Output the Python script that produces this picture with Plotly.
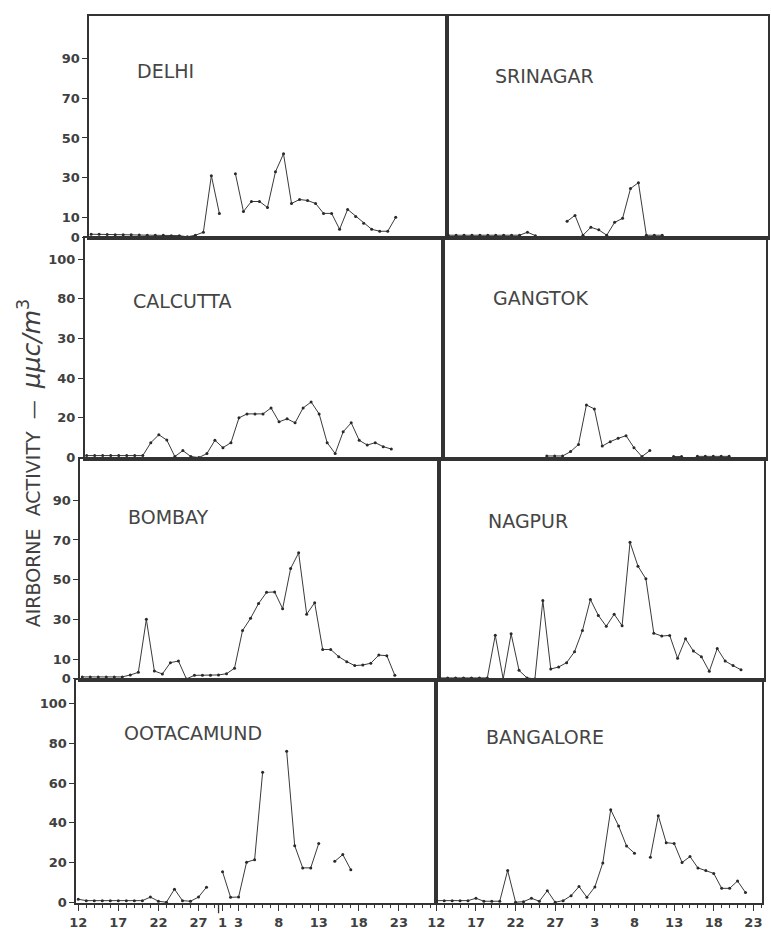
import plotly.graph_objects as go

# ---------------- data (day index 0 = 12th of first month) ----------------
delhi = [1.5, 1.5, 1.4, 1.3, 1.2, 1.2, 1.1, 1.0, 1.0, 1.0, 0.8, 0.8, 0.2, 1.0, 2.5,
         31, 12, None, 32, 13, 18, 18, 15, 33, 42, 17, 19, 18.5, 17, 12, 12, 4, 14,
         10.5, 7, 4, 3, 3, 10]
srinagar = [1, 1, 1, 1, 1, 1, 1, 1, 1, 1, 2.5, 0.8, None, None, None,
            8, 11, 1, 5, 3.7, 1, 7.5, 9.5, 24.5, 27.5, 1, 1, 1]
calcutta = [1, 1, 1, 1, 1, 1, 1, 1, 7.5, 11.5, 8.8, 0.5, 3.5, 0.5, 0, 2, 8.7, 5, 7.5,
            20, 22, 22, 22, 25, 18, 19.5, 17.5, 25, 28, 22, 7.5, 2, 13, 17.5, 8.7,
            6.3, 7.5, 5.5, 4.3]
gangtok = [None] * 13 + [0.8, 0.8, 0.8, 3, 6.6, 26.5, 24.5, 5.8, 8, 9.7, 11, 5, 0.5,
                         3.5, None, None, 0.5, 0.5, None, 0.6, 0.6, 0.6, 0.6, 0.6]
bombay = [1, 1, 1, 1, 1, 1, 2, 3.3, 30, 4, 2.5, 8.2, 9, 0, 1.8, 1.8, 1.8, 2, 2.6, 5.4,
          24.4, 30.5, 38, 43.6, 43.8, 35.4, 55.6, 63.5, 32.6, 38.4, 14.8, 14.8, 11.2,
          8.7, 6.7, 7, 7.9, 12, 11.7, 1.8]
nagpur = [0.5, 0.5, 0.5, 0.5, 0.5, 0.5, 0.5, 22, 0, 22.7, 4.3, 0.5, 0, 39.5, 5, 6, 8.2,
          13.7, 24.4, 40, 32, 26.5, 32.6, 26.8, 68.8, 56.8, 50.4, 23, 21.6, 21.9, 10.4,
          20.2, 14, 11.2, 3.8, 15.3, 9, 6.7, 4.6]
ootacamund = [1.5, 0.8, 0.8, 0.8, 0.8, 0.8, 0.8, 0.8, 0.8, 2.6, 0.5, 0, 6.6, 0.8, 0.5,
              2.6, 7.6, None, 15.3, 2.5, 2.6, 20.2, 21.4, 65.5, None, None, 76, 28.5,
              17.3, 17.3, 29.6, None, 20.6, 24, 16.4]
bangalore = [0.8, 0.8, 0.8, 0.8, 0.8, 2, 0.5, 0.5, 0.5, 16, 0, 0.3, 2, 0.5, 5.8, 0,
             0.8, 3.3, 7.9, 2.5, 7.7, 19.8, 46.6, 38.4, 28.3, 24.7, None, 22.7, 43.6,
             30, 29.6, 20, 23, 17.3, 16, 14.5, 7, 7, 10.7, 4.9]

cities = ["DELHI", "SRINAGAR", "CALCUTTA", "GANGTOK",
          "BOMBAY", "NAGPUR", "OOTACAMUND", "BANGALORE"]
series = [delhi, srinagar, calcutta, gangtok, bombay, nagpur, ootacamund, bangalore]

ytick_vals = [[0, 10, 30, 50, 70, 90], [0, 20, 40, 60, 80, 100],
              [0, 10, 30, 50, 70, 90], [0, 20, 40, 60, 80, 100]]
ytick_text = [["0", "10", "30", "50", "70", "90"], ["0", "20", "40", "30", "80", "100"],
              ["0", "10", "30", "50", "70", "90"], ["0", "20", "40", "60", "80", "100"]]

left_xticks = [0, 5, 10, 15, 18, 20, 25, 30, 35, 40]
left_xlabels = ["12", "17", "22", "27", "1", "3", "8", "13", "18", "23"]
right_xticks = [0, 5, 10, 15, 20, 25, 30, 35, 40]
right_xlabels = ["12", "17", "22", "27", "3", "8", "13", "18", "23"]

# ---------------- layout geometry (pixels) ----------------
W, H = 771, 940
row_top = [16, 240, 462, 685]
row_bot = [240, 462, 685, 910]
axis_left = [82, 77.5, 73, 69]
divider = [444, 439.5, 435.5, 432]
right_edge = [768, 765.5, 764, 762]
PX_DAY_L = 8.1
PX_DAY_R = 8.03

title_pos = [(128, 72), (490, 77), (124, 303), (488, 300),
             (119, 521), (483, 525), (115, 739), (481, 743)]


def px(x):
    return x / W


def py(y):
    return 1 - y / H


ink = "#333333"
tickfont = dict(family="DejaVu Sans", size=13, color="#404040", weight="bold")

fig = go.Figure()
layout = dict(width=W, height=H, paper_bgcolor="white", plot_bgcolor="white",
              margin=dict(l=0, r=0, t=0, b=0), showlegend=False)
annotations = []

for k in range(8):
    r, c = divmod(k, 2)
    n = k + 1
    xs = "" if n == 1 else str(n)
    if c == 0:
        x_lo, x_hi = axis_left[r], divider[r]
        x0 = axis_left[r] + 2
        xr = [(x_lo - x0) / PX_DAY_L, (x_hi - x0) / PX_DAY_L]
    else:
        x_lo, x_hi = divider[r], right_edge[r]
        x0 = divider[r]
        xr = [-0.1, (x_hi - x0) / PX_DAY_R]
    h = row_bot[r] - row_top[r]
    yr = [-0.5, h / 2 - 0.5]

    xa = dict(domain=[px(x_lo), px(x_hi)], range=xr, anchor="y" + xs,
              showgrid=False, zeroline=False, showline=True, mirror=True,
              linecolor=ink, linewidth=1.6, fixedrange=True)
    if r == 3:
        xa.update(tickmode="array",
                  tickvals=left_xticks if c == 0 else right_xticks,
                  ticktext=left_xlabels if c == 0 else right_xlabels,
                  ticks="outside", ticklen=6, tickwidth=1.3, tickcolor=ink,
                  tickfont=tickfont,
                  minor=dict(tickmode="linear", tick0=0, dtick=1, ticks="outside",
                             ticklen=3, tickwidth=1, tickcolor=ink))
    else:
        xa.update(showticklabels=False, ticks="")

    ya = dict(domain=[py(row_bot[r]), py(row_top[r])], range=yr, anchor="x" + xs,
              showgrid=False, zeroline=False, showline=True, mirror=True,
              linecolor=ink, linewidth=1.6, fixedrange=True)
    if c == 0:
        ya.update(tickmode="array", tickvals=ytick_vals[r], ticktext=ytick_text[r],
                  ticks="outside", ticklen=5, tickwidth=1.3, tickcolor=ink,
                  tickfont=tickfont)
    else:
        ya.update(showticklabels=False, ticks="")

    layout["xaxis" + xs] = xa
    layout["yaxis" + xs] = ya

    vals = series[k]
    fig.add_trace(go.Scatter(x=list(range(len(vals))), y=vals, mode="lines+markers",
                             line=dict(color="#3a3a3a", width=1),
                             marker=dict(size=3, color="#2a2a2a"),
                             connectgaps=False, xaxis="x" + xs, yaxis="y" + xs,
                             hoverinfo="skip"))

    tx, ty = title_pos[k]
    annotations.append(dict(text=cities[k], x=px(tx), y=py(ty), xref="paper",
                            yref="paper", xanchor="left", yanchor="middle",
                            showarrow=False,
                            font=dict(family="DejaVu Sans", size=19, color="#454545")))

nb = "\u00a0"
annotations.append(dict(
    text="AIRBORNE" + nb * 2 + "ACTIVITY" + nb + " — " + nb +
         "<span style='font-size:25px'><i>μμc/m</i><sup>3</sup></span>",
    x=px(22), y=py(466), xref="paper", yref="paper", xanchor="center",
    yanchor="middle", textangle=-90, showarrow=False,
    font=dict(family="DejaVu Sans", size=19, color="#404040")))

layout["annotations"] = annotations
layout["shapes"] = [dict(type="line", xref="x7", yref="paper", x0=17.5, x1=17.5,
                         y0=py(row_bot[3] + 10), y1=py(row_bot[3]),
                         line=dict(color=ink, width=1.3))]
fig.update_layout(**layout)
fig.write_html(
    "out.html",
    config={"displayModeBar": False},
    post_script="document.body.style.margin='0';document.body.style.overflow='hidden';",
)
